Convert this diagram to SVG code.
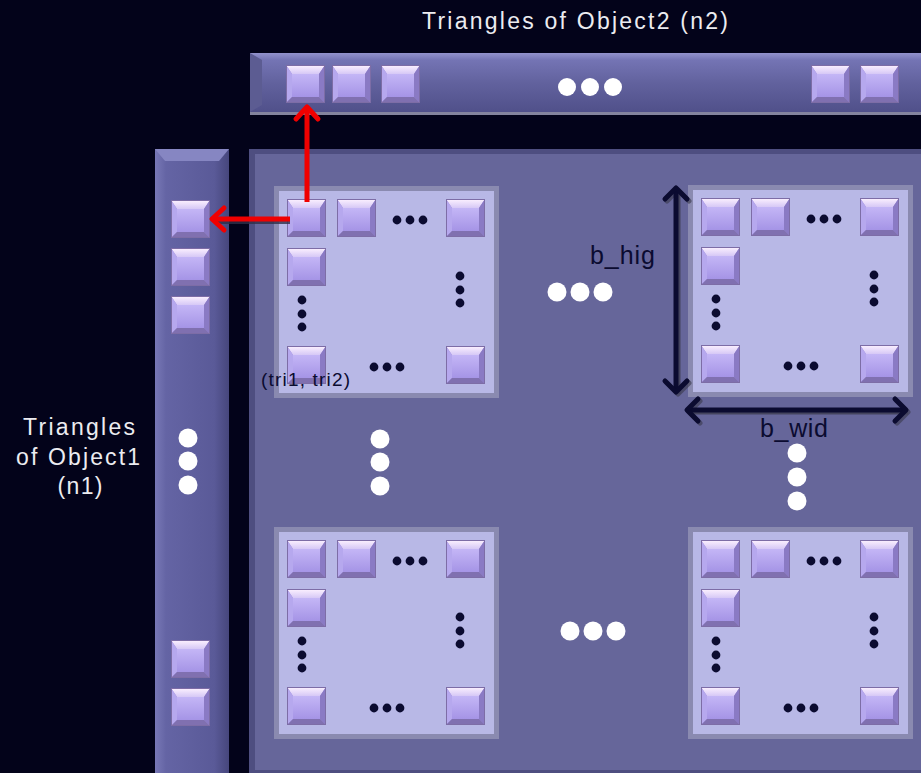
<svg xmlns="http://www.w3.org/2000/svg" xmlns:xlink="http://www.w3.org/1999/xlink" width="921" height="773" viewBox="0 0 921 773">
<style>
.lbl{font-family:"Liberation Sans","DejaVu Sans",Arial,sans-serif;fill:#ececf0}
.dk{font-family:"Liberation Sans","DejaVu Sans",Arial,sans-serif;fill:#0b0b30}
.wdot{fill:#ffffff}
.bdot{fill:#0b0b30}
.red{stroke:#f00000;stroke-width:5;fill:none}
.dim{stroke:#0b0b30;stroke-width:5;fill:none}
.dimsh{stroke:#3c3c50;stroke-width:5;fill:none;opacity:0.8}
</style>
<defs>
<linearGradient id="gTop" x1="0" y1="0" x2="0" y2="1">
<stop offset="0" stop-color="#fdf2ff"/><stop offset="1" stop-color="#d6c8f6"/>
</linearGradient>
<linearGradient id="gFace" x1="0" y1="0" x2="0" y2="1">
<stop offset="0" stop-color="#c4b6f6"/><stop offset="1" stop-color="#a594e6"/>
</linearGradient>
<linearGradient id="gBarH" x1="0" y1="0" x2="0" y2="1">
<stop offset="0" stop-color="#9292cc"/><stop offset="0.12" stop-color="#7474b4"/><stop offset="0.5" stop-color="#62629e"/><stop offset="1" stop-color="#50508a"/>
</linearGradient>
<linearGradient id="gBarV" x1="0" y1="0" x2="1" y2="0">
<stop offset="0" stop-color="#7878b6"/><stop offset="0.15" stop-color="#6464a4"/><stop offset="0.8" stop-color="#5a5a98"/><stop offset="1" stop-color="#46467c"/>
</linearGradient>
<g id="sq">
<rect x="0" y="0" width="39" height="38" fill="#9c8cd6"/>
<polygon points="0,0 39,0 33,9 6,9" fill="url(#gTop)"/>
<rect x="6" y="9" width="27" height="23" fill="url(#gFace)"/>
<polygon points="0,0 6,9 6,32 0,38" fill="#b6a8ee"/>
<polygon points="39,0 33,9 33,32 39,38" fill="#8a7ac4"/>
<polygon points="0,38 6,32 33,32 39,38" fill="#8070b0"/>
<rect x="0.5" y="0.5" width="38" height="37" fill="none" stroke="#7d6da6" stroke-width="1"/>
</g>
<g id="blk">
<rect x="0" y="0" width="225" height="212" fill="#8a8ab0"/>
<rect x="5" y="5" width="215" height="202" fill="#b8b8e6"/>
<use xlink:href="#sq" x="13" y="13"/>
<use xlink:href="#sq" x="63" y="13"/>
<use xlink:href="#sq" x="172" y="13"/>
<use xlink:href="#sq" x="13" y="62"/>
<use xlink:href="#sq" x="13" y="160"/>
<use xlink:href="#sq" x="172" y="160"/>
<circle class="bdot" cx="123" cy="34" r="4.4"/><circle class="bdot" cx="136" cy="34" r="4.4"/><circle class="bdot" cx="149" cy="34" r="4.4"/>
<circle class="bdot" cx="186" cy="90" r="4.4"/><circle class="bdot" cx="186" cy="104" r="4.4"/><circle class="bdot" cx="186" cy="117" r="4.4"/>
<circle class="bdot" cx="28" cy="114" r="4.4"/><circle class="bdot" cx="28" cy="128" r="4.4"/><circle class="bdot" cx="28" cy="141" r="4.4"/>
<circle class="bdot" cx="100" cy="181" r="4.4"/><circle class="bdot" cx="113" cy="181" r="4.4"/><circle class="bdot" cx="126" cy="181" r="4.4"/>
</g>
<marker id="redHead" markerUnits="userSpaceOnUse" viewBox="-16 -16 20 32" markerWidth="20" markerHeight="32" refX="0" refY="0" orient="auto" overflow="visible">
<path d="M-12,-11 L0,0 L-12,11" stroke="#f00000" stroke-width="5" fill="none" stroke-linecap="round" stroke-linejoin="round"/>
</marker>
<marker id="dkHead" markerUnits="userSpaceOnUse" viewBox="-16 -16 20 32" markerWidth="20" markerHeight="32" refX="0" refY="0" orient="auto-start-reverse" overflow="visible">
<path d="M-11,-11 L0,0 L-11,11" stroke="#0b0b30" stroke-width="5" fill="none" stroke-linecap="round" stroke-linejoin="round"/>
</marker>
<marker id="shHead" markerUnits="userSpaceOnUse" viewBox="-16 -16 20 32" markerWidth="20" markerHeight="32" refX="0" refY="0" orient="auto-start-reverse" overflow="visible">
<path d="M-11,-11 L0,0 L-11,11" stroke="#3c3c50" stroke-width="5" fill="none" stroke-linecap="round" stroke-linejoin="round" opacity="0.8"/>
</marker>
</defs>

<rect x="0" y="0" width="921" height="773" fill="#03031a"/>

<g id="object2-bar">
<rect x="250" y="53" width="671" height="62" fill="#84849e"/>
<rect x="250" y="53" width="671" height="59" fill="url(#gBarH)"/>
<polygon points="250,53 262,60 262,105 250,112" fill="#5c5c92"/>
<use xlink:href="#sq" x="286" y="65"/>
<use xlink:href="#sq" x="332" y="65"/>
<use xlink:href="#sq" x="381" y="65"/>
<circle class="wdot" cx="567" cy="87" r="9"/><circle class="wdot" cx="590" cy="87" r="9"/><circle class="wdot" cx="613" cy="87" r="9"/>
<use xlink:href="#sq" x="811" y="65"/>
<use xlink:href="#sq" x="860" y="65"/>
</g>
<text class="lbl" x="575" y="29" font-size="23" text-anchor="middle" textLength="306" lengthAdjust="spacing">Triangles of Object2 (n2)</text>

<g id="object1-bar">
<rect x="155" y="149" width="74" height="624" fill="url(#gBarV)"/>
<polygon points="155,149 229,149 219,161 165,161" fill="#8686c2"/>
<use xlink:href="#sq" x="171" y="200"/>
<use xlink:href="#sq" x="171" y="248"/>
<use xlink:href="#sq" x="171" y="296"/>
<circle class="wdot" cx="188" cy="438" r="9.5"/><circle class="wdot" cx="188" cy="461" r="9.5"/><circle class="wdot" cx="188" cy="485" r="9.5"/>
<use xlink:href="#sq" x="171" y="640"/>
<use xlink:href="#sq" x="171" y="688"/>
</g>
<text class="lbl" font-size="23" text-anchor="middle"><tspan x="79" y="435" textLength="112" lengthAdjust="spacing">Triangles</tspan><tspan x="78" y="465" textLength="124" lengthAdjust="spacing">of Object1</tspan><tspan x="80" y="494" textLength="45" lengthAdjust="spacing">(n1)</tspan></text>

<g id="matrix">
<rect x="249" y="149" width="672" height="624" fill="#4e4e80"/>
<rect x="255" y="154" width="666" height="616" fill="#66669a"/>
<circle class="wdot" cx="557" cy="292" r="9.5"/><circle class="wdot" cx="580" cy="292" r="9.5"/><circle class="wdot" cx="603" cy="292" r="9.5"/>
<circle class="wdot" cx="570" cy="631" r="9.5"/><circle class="wdot" cx="593" cy="631" r="9.5"/><circle class="wdot" cx="616" cy="631" r="9.5"/>
<circle class="wdot" cx="380" cy="439" r="9.5"/><circle class="wdot" cx="380" cy="462" r="9.5"/><circle class="wdot" cx="380" cy="486" r="9.5"/>
<circle class="wdot" cx="797" cy="453" r="9.5"/><circle class="wdot" cx="797" cy="477" r="9.5"/><circle class="wdot" cx="797" cy="501" r="9.5"/>
</g>

<g id="block-top-left"><use xlink:href="#blk" x="274" y="186"/></g>
<g id="block-top-right"><use xlink:href="#blk" x="688" y="185"/></g>
<g id="block-bottom-left"><use xlink:href="#blk" x="274" y="527"/></g>
<g id="block-bottom-right"><use xlink:href="#blk" x="688" y="527"/></g>

<text class="dk" x="261" y="386" font-size="19" textLength="89" lengthAdjust="spacing">(tri1, tri2)</text>
<text class="dk" x="590" y="264" font-size="25" textLength="65" lengthAdjust="spacing">b_hig</text>
<text class="dk" x="760" y="437" font-size="25" textLength="68" lengthAdjust="spacing">b_wid</text>

<g id="connectors">
<line class="dimsh" x1="678" y1="190" x2="678" y2="394" marker-start="url(#shHead)" marker-end="url(#shHead)"/>
<line class="dim" x1="676" y1="188" x2="676" y2="392" marker-start="url(#dkHead)" marker-end="url(#dkHead)"/>
<line class="dimsh" x1="689" y1="412" x2="908" y2="412" marker-start="url(#shHead)" marker-end="url(#shHead)"/>
<line class="dim" x1="687" y1="410" x2="906" y2="410" marker-start="url(#dkHead)" marker-end="url(#dkHead)"/>
<line x1="290" y1="222" x2="214" y2="222" stroke="#30304a" stroke-width="4" opacity="0.8"/>
<line class="red" x1="307" y1="202" x2="307" y2="107" marker-end="url(#redHead)"/>
<line class="red" x1="290" y1="219" x2="212" y2="219" marker-end="url(#redHead)"/>
</g>
</svg>
